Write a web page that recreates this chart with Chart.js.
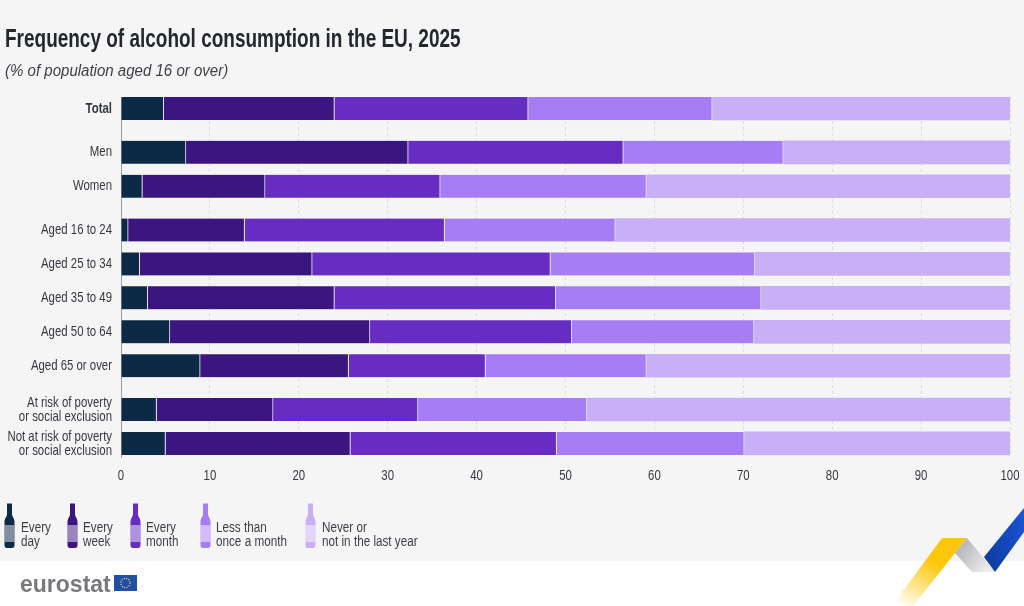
<!DOCTYPE html>
<html>
<head>
<meta charset="utf-8">
<title>Frequency of alcohol consumption in the EU, 2025</title>
<script src="https://cdn.jsdelivr.net/npm/chart.js@4/dist/chart.umd.min.js"></script>
<style>
  html, body { margin: 0; padding: 0; background: #fff; }
  #page { position: relative; width: 1024px; height: 606px; overflow: hidden; font-family: "Liberation Sans", sans-serif; }
  #panel { position: absolute; left: 0; top: 0; width: 1024px; height: 561px; background: #f5f5f6; }
  #chart { position: absolute; left: 0; top: 0; }
  #title { position: absolute; left: 5px; top: 22px; font-size: 26px; line-height: 32px; font-weight: bold; color: #23272f; white-space: nowrap; transform: scaleX(0.73); transform-origin: left top; }
  #subtitle { position: absolute; left: 5px; top: 61px; font-size: 16px; line-height: 20px; font-style: italic; color: #3c3f46; white-space: nowrap; transform: scaleX(0.94); transform-origin: left top; }
  .legendItem { position: absolute; top: 503px; height: 46px; }
  .legendItem svg { position: absolute; left: 0; top: 0; }
  .legendText { position: absolute; top: 17px; font-size: 15.5px; line-height: 14px; color: #3c3f46; white-space: nowrap; transform: scaleX(0.755); transform-origin: left top; }
  #logoText { position: absolute; left: 20px; top: 569px; font-weight: bold; font-size: 23px; line-height: 30px; color: #77797e; }
  #deco { position: absolute; left: 0; top: 0; }
</style>
</head>
<body>
<div id="page">
  <div id="panel"></div>
  <svg id="deco" width="1024" height="606">
    <defs>
      <linearGradient id="yellowFade" x1="0.1" y1="1" x2="0.55" y2="0.35">
        <stop offset="0" stop-color="#ffffff"/>
        <stop offset="1" stop-color="#fdc70c"/>
      </linearGradient>
      <linearGradient id="greyFade" x1="0" y1="0" x2="1" y2="0.6">
        <stop offset="0" stop-color="#a9a9ae"/>
        <stop offset="1" stop-color="#ececee"/>
      </linearGradient>
      <linearGradient id="blueFade" x1="0" y1="1" x2="1" y2="0">
        <stop offset="0" stop-color="#0e3a9c"/>
        <stop offset="1" stop-color="#1a56d6"/>
      </linearGradient>
    </defs>
    <polygon points="942,538 967,538 913,606 892,606" fill="url(#yellowFade)"/>
    <polygon points="967,538 995,572 972,572 955,553" fill="url(#greyFade)"/>
    <polygon points="1024,508 1024,532 995,572 984,557" fill="url(#blueFade)"/>
    <rect x="114" y="575" width="23" height="16" fill="#1f4fa8"/>
    <circle cx="125.5" cy="583" r="4.6" fill="none" stroke="#f2cf3a" stroke-width="1.2" stroke-dasharray="1.2 1.2"/>
  </svg>
  <canvas id="chart" width="1024" height="606"></canvas>
  <div id="title">Frequency of alcohol consumption in the EU, 2025</div>
  <div id="subtitle">(% of population aged 16 or over)</div>
  <div id="legend"></div>
  <div id="logoText">eurostat</div>
</div>
<script>
// row labels, top to bottom
const categories = [
  "Total",
  "Men", "Women",
  "Aged 16 to 24", "Aged 25 to 34", "Aged 35 to 49", "Aged 50 to 64", "Aged 65 or over",
  ["At risk of poverty", "or social exclusion"],
  ["Not at risk of poverty", "or social exclusion"]
];

// number of rows in each block, blocks are set apart by a small gap
const groupSizes = [1, 2, 5, 2];

const everyDay = [4.8, 7.3, 2.4, 0.8, 2.1, 3.0, 5.5, 8.9, 4.0, 5.0];
const everyWeek = [19.2, 25.0, 13.8, 13.1, 19.4, 21.0, 22.5, 16.7, 13.1, 20.8];
const everyMonth = [21.8, 24.2, 19.7, 22.5, 26.8, 24.9, 22.7, 15.4, 16.3, 23.2];
const lessThanMonthly = [20.7, 18.0, 23.2, 19.2, 23.0, 23.1, 20.5, 18.1, 19.0, 21.1];
const neverOrNotLastYear = [33.5, 25.5, 40.9, 44.4, 28.7, 28.0, 28.8, 40.9, 47.6, 29.9];

const seriesNames = [
  ["Every", "day"],
  ["Every", "week"],
  ["Every", "month"],
  ["Less than", "once a month"],
  ["Never or", "not in the last year"]
];
const seriesValues = [everyDay, everyWeek, everyMonth, lessThanMonthly, neverOrNotLastYear];
const seriesColors = ["#0c2a46", "#3b1681", "#672dc3", "#a77df6", "#c9aff5"];

const xTicks = [0, 10, 20, 30, 40, 50, 60, 70, 80, 90, 100];

const FONT = '"Liberation Sans", sans-serif';
const TEXT_COLOR = "#35383f";
const GROUP_GAP = 0.29;

// y position of every row: one unit per row plus the gap between blocks
function getRowPositions() {
  const positions = [];
  let y = 0;

  groupSizes.forEach((size, groupIndex) => {
    for (let i = 0; i < size; i++) {
      positions.push(y);
      y += 1;
    }
    if (groupIndex < groupSizes.length - 1) {
      y += GROUP_GAP;
    }
  });

  return positions;
}

const rowPositions = getRowPositions();

function getLabelForPosition(value) {
  const index = rowPositions.findIndex((p) => Math.abs(p - value) < 0.001);
  return index >= 0 ? categories[index] : "";
}

// the original uses a condensed face, none is installed, so the labels get squeezed
function drawSqueezedText(ctx, text, x, y, align, squeeze) {
  ctx.save();
  ctx.translate(x, y);
  ctx.scale(squeeze, 1);
  ctx.textAlign = align;
  ctx.textBaseline = "middle";
  ctx.fillText(text, 0, 0);
  ctx.restore();
}

const condensedLabels = {
  id: "condensedLabels",
  afterDraw(chart) {
    const ctx = chart.ctx;
    const xScale = chart.scales.x;
    const yScale = chart.scales.y;

    ctx.save();
    ctx.fillStyle = TEXT_COLOR;

    rowPositions.forEach((pos, i) => {
      const y = yScale.getPixelForValue(pos);
      const lines = [].concat(categories[i]);
      const top = y - (lines.length - 1) * 7;
      ctx.font = (pos === 0 ? "bold " : "") + "15px " + FONT;
      lines.forEach((line, l) => {
        drawSqueezedText(ctx, line, xScale.left - 9, top + l * 14, "right", 0.76);
      });
    });

    ctx.font = "15px " + FONT;
    xTicks.forEach((value) => {
      drawSqueezedText(ctx, String(value), xScale.getPixelForValue(value), yScale.bottom + 19, "center", 0.76);
    });

    ctx.restore();
  }
};

function renderLegend() {
  const target = document.getElementById("legend");
  const lefts = [4, 67, 130, 200, 305];
  const textOffsets = [17, 16, 16, 16, 17];

  seriesNames.forEach((name, i) => {
    const color = seriesColors[i];
    const item = document.createElement("div");
    item.className = "legendItem";
    item.style.left = lefts[i] + "px";
    item.innerHTML = `
      <svg width="11" height="46" viewBox="0 0 11 46">
        <path d="M3 0.5 H8 V11 C8 14 10.5 15 10.5 19 V42 Q10.5 45 8 45 H3 Q0.5 45 0.5 42 V19 C0.5 15 3 14 3 11 Z" fill="${color}"/>
        <rect x="0.5" y="22" width="10" height="17" fill="#ffffff" opacity="0.48"/>
      </svg>
      <div class="legendText" style="left:${textOffsets[i]}px">${name[0]}<br>${name[1]}</div>`;
    target.appendChild(item);
  });
}

function renderChart() {
  const datasets = seriesValues.map((values, i) => ({
    label: seriesNames[i].join(" "),
    data: values.map((v, r) => ({ x: v, y: rowPositions[r] })),
    backgroundColor: seriesColors[i],
    borderColor: "#e9e2f8",
    borderWidth: { left: 0, right: i < seriesValues.length - 1 ? 1 : 0, top: 0, bottom: 0 },
    borderSkipped: false,
    barThickness: 23
  }));

  new Chart(document.getElementById("chart"), {
    type: "bar",
    data: { datasets: datasets },
    plugins: [condensedLabels],
    options: {
      indexAxis: "y",
      responsive: false,
      animation: false,
      layout: { padding: { top: 97, right: 14, bottom: 119, left: 0 } },
      plugins: { legend: { display: false }, tooltip: { enabled: false } },
      scales: {
        x: {
          type: "linear",
          stacked: true,
          min: 0,
          max: 100,
          afterBuildTicks: (scale) => {
            scale.ticks = xTicks.map((v) => ({ value: v }));
          },
          afterFit: (scale) => {
            scale.height = 30;
          },
          border: { display: false, dash: [3, 3] },
          grid: { color: "#dcdcdf", lineWidth: 1, drawTicks: false },
          ticks: { display: false }
        },
        y: {
          type: "linear",
          offset: false,
          stacked: true,
          reverse: true,
          min: -0.34,
          max: rowPositions[rowPositions.length - 1] + 0.4,
          afterBuildTicks: (scale) => {
            scale.ticks = rowPositions.map((v) => ({ value: v }));
          },
          afterFit: (scale) => {
            scale.width = 121;
          },
          border: { display: true, color: "#9b9da2", width: 1 },
          grid: { display: false },
          ticks: { display: false, callback: (value) => getLabelForPosition(value) }
        }
      }
    }
  });
}

renderLegend();
renderChart();
</script>
</body>
</html>
